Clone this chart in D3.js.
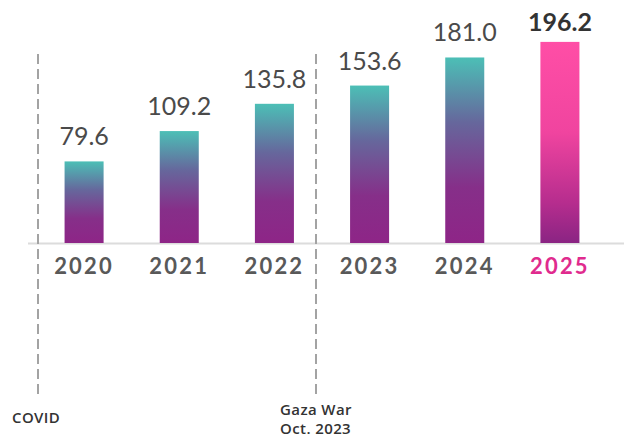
<!DOCTYPE html>
<html>
<head>
<meta charset="utf-8">
<script src="https://cdn.jsdelivr.net/npm/d3@7"></script>
<style>
  body { margin: 0; background: #fff; }
  svg { font-family: Lato, "Open Sans", sans-serif; }
</style>
</head>
<body>
<div id="chart"></div>
<script>
// values
const years = ['2020', '2021', '2022', '2023', '2024', '2025'];
const values = [79.6, 109.2, 135.8, 153.6, 181.0, 196.2];
const highlightYear = '2025';
const eventYears = ['2020', '2023'];
const eventLabels = [['COVID'], ['Gaza War', 'Oct. 2023']];

const width = 624;
const height = 440;
const baseY = 243;

const svg = d3.select('#chart')
  .append('svg')
  .attr('width', width)
  .attr('height', height);

// gradients
const defs = svg.append('defs');
const g1 = defs.append('linearGradient')
  .attr('id', 'barGrad').attr('x1', 0).attr('y1', 0).attr('x2', 0).attr('y2', 1);
g1.append('stop').attr('offset', '0%').attr('stop-color', '#4cbfb6');
g1.append('stop').attr('offset', '35%').attr('stop-color', '#66679c');
g1.append('stop').attr('offset', '70%').attr('stop-color', '#862f89');
g1.append('stop').attr('offset', '100%').attr('stop-color', '#8e2587');

const g2 = defs.append('linearGradient')
  .attr('id', 'hiGrad').attr('x1', 0).attr('y1', 0).attr('x2', 0).attr('y2', 1);
g2.append('stop').attr('offset', '0%').attr('stop-color', '#ff4ea6');
g2.append('stop').attr('offset', '45%').attr('stop-color', '#f0449f');
g2.append('stop').attr('offset', '80%').attr('stop-color', '#b62d8e');
g2.append('stop').attr('offset', '100%').attr('stop-color', '#8a2483');

const x = d3.scaleBand()
  .domain(years)
  .range([36.5, 607.5])
  .paddingInner(0.59)
  .paddingOuter(0.295);

const y = d3.scaleLinear()
  .domain([0, 200])
  .range([baseY, 38]);

const data = years.map((yr, i) => ({ year: yr, value: values[i] }));

// baseline
svg.append('line')
  .attr('x1', 28).attr('x2', width)
  .attr('y1', baseY + 0.5).attr('y2', baseY + 0.5)
  .attr('stroke', '#dcdcdc')
  .attr('stroke-width', 2);

// event dashed lines, just left of the event year's band
const eventX = yr => Math.round(x(yr) - x.step() * x.paddingOuter() + (yr === '2020' ? 2 : -6));
eventYears.forEach(yr => {
  svg.append('line')
    .attr('x1', eventX(yr)).attr('x2', eventX(yr))
    .attr('y1', 54).attr('y2', 395)
    .attr('stroke', '#a3a3a3')
    .attr('stroke-width', 2)
    .attr('stroke-dasharray', '10,5');
});

// bars
svg.selectAll('rect.bar')
  .data(data)
  .enter()
  .append('rect')
  .attr('class', 'bar')
  .attr('x', d => x(d.year))
  .attr('y', d => y(d.value))
  .attr('width', x.bandwidth())
  .attr('height', d => baseY - y(d.value))
  .attr('fill', d => d.year === highlightYear ? 'url(#hiGrad)' : 'url(#barGrad)');

// value labels
svg.selectAll('text.val')
  .data(data)
  .enter()
  .append('text')
  .attr('class', 'val')
  .attr('x', d => x(d.year) + x.bandwidth() / 2)
  .attr('y', d => y(d.value) - (d.year === highlightYear ? 11 : 16))
  .attr('text-anchor', 'middle')
  .attr('font-size', 25)
  .attr('font-weight', d => d.year === highlightYear ? 700 : 400)
  .attr('fill', d => d.year === highlightYear ? '#333' : '#4a4a4a')
  .text(d => d.value.toFixed(1));

// year labels
const xAxis = d3.axisBottom(x).tickSize(0).tickPadding(0);
const ax = svg.append('g')
  .attr('class', 'x-axis')
  .attr('transform', `translate(0, ${baseY})`)
  .call(xAxis);
ax.select('.domain').remove();
ax.selectAll('text')
  .attr('dy', null)
  .attr('y', 31)
  .attr('font-family', 'Lato, sans-serif')
  .attr('font-size', 22)
  .attr('font-weight', 700)
  .attr('letter-spacing', 2.2)
  .attr('fill', d => d === highlightYear ? '#e02b8e' : '#595959');

// event captions
const captionX = [12, 280];
const captionY = [423, 415];
eventLabels.forEach((lines, k) => {
  const t = svg.append('text')
    .attr('x', captionX[k]).attr('y', captionY[k])
    .attr('font-family', '"Open Sans", sans-serif')
    .attr('font-size', 15).attr('font-weight', 600)
    .attr('letter-spacing', 0.4).attr('fill', '#333');
  lines.forEach((l, i) => {
    t.append('tspan').attr('x', captionX[k]).attr('dy', i === 0 ? 0 : 19).text(l);
  });
});
</script>
</body>
</html>
